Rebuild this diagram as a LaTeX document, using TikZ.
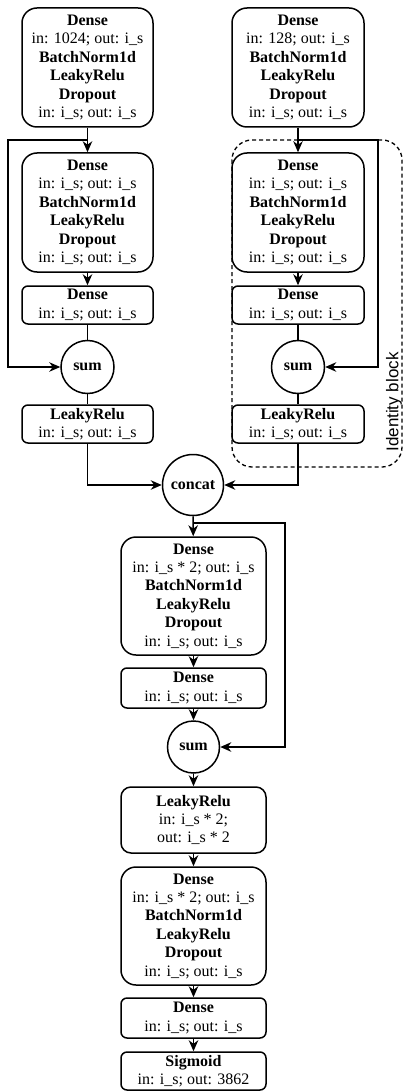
\documentclass[tikz,border=0pt]{standalone}
\usepackage{fontspec}
\setmainfont{Liberation Serif}
\newfontfamily\labelfont{Liberation Sans}
\usetikzlibrary{arrows.meta,positioning,calc}
\tikzset{
  blk/.style={draw, line width=1.5pt, rounded corners=#1, align=center, inner sep=0pt,
    font=\fontsize{16}{18.4}\selectfont},
  bigbox/.style={blk=15pt, minimum height=119pt},
  smallbox/.style={blk=6pt, minimum height=38pt},
  opnode/.style={draw, circle, line width=1.5pt, inner sep=0pt, font=\fontsize{16}{18.4}\selectfont\bfseries},
  conn/.style={line width=1.5pt},
  arr/.style={conn, -{Stealth[length=11pt,width=9.5pt,inset=3.5pt]}},
}
\begin{document}
\begin{tikzpicture}[x=1pt,y=-1pt]
\useasboundingbox (0,0) rectangle (406,1091);
% identity block
\draw[line width=1.3pt, dash pattern=on 4pt off 3pt, rounded corners=20pt] (232,140) rectangle (402,467);
\node[rotate=90, font=\labelfont\fontsize{17}{20}\selectfont] (idlabel) at (394,402) {Identity block};

% left column
\node[bigbox, minimum width=131pt] (L1) at (87.5,67.5) {\textbf{Dense}\\in: 1024; out: i\_s\\\textbf{BatchNorm1d}\\\textbf{LeakyRelu}\\\textbf{Dropout}\\in: i\_s; out: i\_s};
\node[bigbox, minimum width=131pt] (L2) at (87.5,212.5) {\textbf{Dense}\\in: i\_s; out: i\_s\\\textbf{BatchNorm1d}\\\textbf{LeakyRelu}\\\textbf{Dropout}\\in: i\_s; out: i\_s};
\node[smallbox, minimum width=131pt] (L3) at (87.5,305) {\textbf{Dense}\\in: i\_s; out: i\_s};
\node[opnode, minimum size=53pt] (Ls) at (87.5,367) {sum};
\node[smallbox, minimum width=131pt] (L4) at (87.5,424) {\textbf{LeakyRelu}\\in: i\_s; out: i\_s};

% right column
\node[bigbox, minimum width=132pt] (R1) at (298,67.5) {\textbf{Dense}\\in: 128; out: i\_s\\\textbf{BatchNorm1d}\\\textbf{LeakyRelu}\\\textbf{Dropout}\\in: i\_s; out: i\_s};
\node[bigbox, minimum width=132pt] (R2) at (298,212.5) {\textbf{Dense}\\in: i\_s; out: i\_s\\\textbf{BatchNorm1d}\\\textbf{LeakyRelu}\\\textbf{Dropout}\\in: i\_s; out: i\_s};
\node[smallbox, minimum width=132pt] (R3) at (298,305) {\textbf{Dense}\\in: i\_s; out: i\_s};
\node[opnode, minimum size=53pt] (Rs) at (298,367) {sum};
\node[smallbox, minimum width=132pt] (R4) at (298,424) {\textbf{LeakyRelu}\\in: i\_s; out: i\_s};

% concat
\node[opnode, minimum size=61pt] (cc) at (193,485) {concat};

% middle column
\node[bigbox, minimum width=145pt, minimum height=118pt] (M1) at (193.5,596) {\textbf{Dense}\\in: i\_s * 2; out: i\_s\\\textbf{BatchNorm1d}\\\textbf{LeakyRelu}\\\textbf{Dropout}\\in: i\_s; out: i\_s};
\node[smallbox, minimum width=145pt, minimum height=40pt] (M2) at (193.5,688) {\textbf{Dense}\\in: i\_s; out: i\_s};
\node[opnode, minimum size=52pt] (Ms) at (193.5,747) {sum};
\node[blk=10pt, minimum width=145pt, minimum height=66pt] (M3) at (193.5,820) {\textbf{LeakyRelu}\\in: i\_s * 2;\\out: i\_s * 2};
\node[bigbox, minimum width=145pt, minimum height=118pt] (M4) at (193.5,926) {\textbf{Dense}\\in: i\_s * 2; out: i\_s\\\textbf{BatchNorm1d}\\\textbf{LeakyRelu}\\\textbf{Dropout}\\in: i\_s; out: i\_s};
\node[smallbox, minimum width=145pt, minimum height=40pt] (M5) at (193.5,1018) {\textbf{Dense}\\in: i\_s; out: i\_s};
\node[smallbox, minimum width=145pt] (M6) at (193.5,1071) {\textbf{Sigmoid}\\in: i\_s; out: 3862};

% skip branch points
\coordinate (Lb) at (87.5,140);
\coordinate (Rb) at (298,140);
\coordinate (Mb) at (193.5,523);

% left connectors
\draw[arr] (L1) -- (L2);
\draw[arr] (L2) -- (L3);
\draw[conn] (L3) -- (Ls);
\draw[conn] (Ls) -- (L4);
\draw[arr] (Lb) -- (8,140) -- (8,367) -- (Ls.west);
% right connectors
\draw[arr] (R1) -- (R2);
\draw[arr] (R2) -- (R3);
\draw[conn] (R3) -- (Rs);
\draw[conn] (Rs) -- (R4);
\draw[arr] (Rb) -- (378,140) -- (378,367) -- (Rs.east);
% to concat
\draw[arr] (L4.south) |- (cc.west);
\draw[arr] (R4.south) |- (cc.east);
% middle connectors
\draw[arr] (cc) -- (M1);
\draw[arr] (Mb) -- (285,523) -- (285,747) -- (Ms.east);
\draw[arr] (M1) -- (M2);
\draw[arr] (M2) -- (Ms);
\draw[arr] (Ms) -- (M3);
\draw[arr] (M3) -- (M4);
\draw[arr] (M4) -- (M5);
\draw[arr] (M5) -- (M6);
\end{tikzpicture}
\end{document}
